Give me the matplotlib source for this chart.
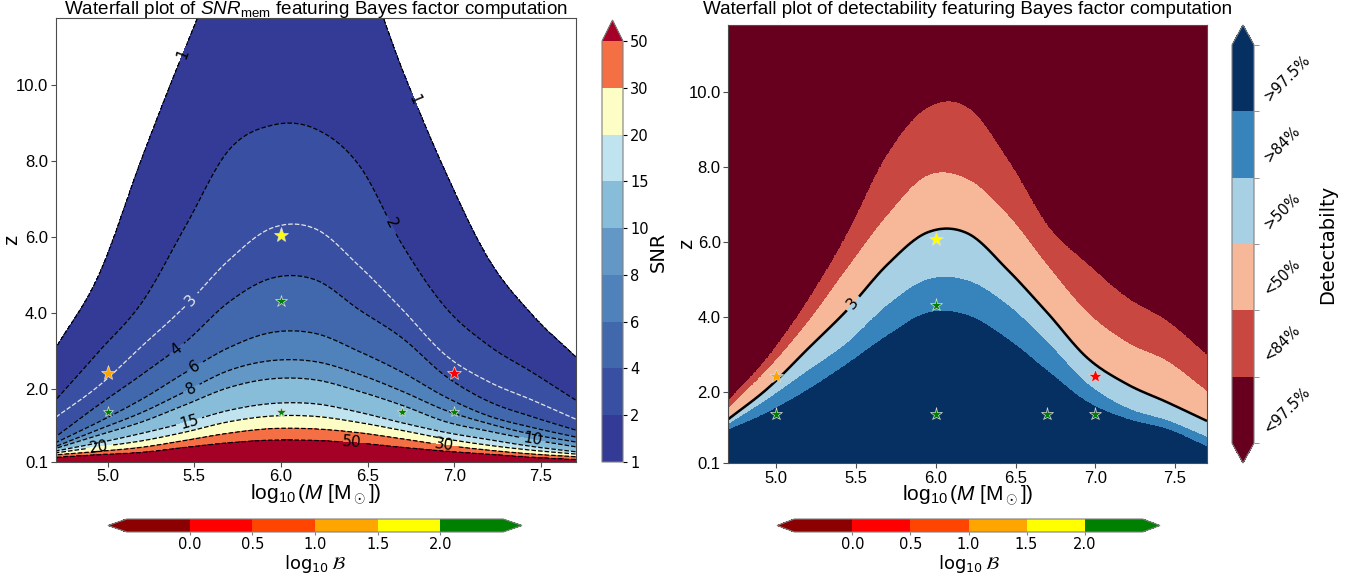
import numpy as np
import matplotlib
matplotlib.use("Agg")
import matplotlib.pyplot as plt
from matplotlib.colors import ListedColormap, BoundaryNorm
from matplotlib.cm import ScalarMappable
from matplotlib.ticker import FixedLocator
from matplotlib import font_manager

# ----------------------------------------------------------------- data
mass_nodes = [4.7, 4.95, 5.2, 5.45, 5.7, 5.95, 6.2, 6.45, 6.7, 6.95, 7.2, 7.45, 7.7]

snr_levels = [1, 2, 4, 6, 8, 10, 15, 20, 30, 50]
# redshift of each SNR contour at the mass nodes
z_snr_1 = [3.07, 5.0, 8.1, 11.0, 13.6, 15.0, 15.0, 13.4, 10.4, 7.7, 5.4, 3.95, 2.85]
z_snr_2 = [1.72, 3.0, 4.3, 6.3, 8.3, 8.95, 8.85, 7.9, 5.8, 4.15, 3.15, 2.45, 1.72]
z_snr_3 = [1.27, 2.1, 3.15, 4.2, 5.4, 6.25, 6.22, 5.25, 4.1, 2.9, 2.2, 1.72, 1.22]
z_snr_4 = [0.75, 1.6, 2.4, 3.25, 4.3, 4.93, 4.88, 4.1, 3.35, 2.35, 1.68, 1.28, 0.93]
z_snr_6 = [0.6, 1.15, 1.75, 2.45, 3.1, 3.5, 3.47, 3.0, 2.45, 1.8, 1.3, 1.0, 0.75]
z_snr_8 = [0.5, 0.95, 1.4, 1.95, 2.5, 2.76, 2.73, 2.4, 1.95, 1.45, 1.1, 0.82, 0.62]
z_snr_10 = [0.45, 0.8, 1.15, 1.6, 2.05, 2.28, 2.25, 1.95, 1.58, 1.15, 0.9, 0.68, 0.49]
z_snr_15 = [0.38, 0.6, 0.85, 1.13, 1.45, 1.63, 1.62, 1.4, 1.12, 0.87, 0.68, 0.5, 0.36]
z_snr_20 = [0.33, 0.49, 0.65, 0.88, 1.15, 1.30, 1.29, 1.13, 0.92, 0.7, 0.53, 0.4, 0.3]
z_snr_30 = [0.28, 0.37, 0.48, 0.66, 0.85, 0.97, 0.96, 0.86, 0.7, 0.53, 0.40, 0.3, 0.23]
z_snr_50 = [0.22, 0.29, 0.35, 0.48, 0.6, 0.67, 0.66, 0.59, 0.48, 0.38, 0.3, 0.22, 0.16]

# detectability band edges (redshift at the mass nodes)
z_det_lt975 = [1.73, 2.9, 4.4, 6.2, 8.3, 9.55, 9.55, 8.15, 6.4, 5.38, 4.48, 3.86, 2.95]
z_det_lt84 = [1.55, 2.6, 3.85, 5.3, 6.7, 7.75, 7.65, 6.7, 5.35, 4.1, 3.3, 2.8, 2.0]
z_det_gt84 = [1.12, 1.8, 2.55, 3.3, 4.3, 4.98, 4.95, 4.3, 3.3, 2.2, 1.55, 1.22, 0.78]
z_det_gt975 = [0.98, 1.45, 2.05, 2.75, 3.5, 4.1, 4.03, 3.4, 2.55, 1.72, 1.27, 1.0, 0.53]
det_labels = ['<97.5%', '<84%', '<50%', '>50%', '>84%', '>97.5%']

# sources (stars) and their log10 Bayes-factor class colour
star_mass = [5.0, 6.0, 7.0, 5.0, 6.0, 6.0, 6.7, 7.0]
star_z = [2.43, 6.07, 2.43, 1.4, 4.32, 1.4, 1.4, 1.4]
star_color = ['orange', 'yellow', 'red', 'green', 'green', 'green', 'green', 'green']

logB_bounds = [-0.5, 0.0, 0.5, 1.0, 1.5, 2.0, 2.5]
logB_colors = ['darkred', 'red', 'orangered', 'orange', 'yellow', 'green']
logB_ticks = [0.0, 0.5, 1.0, 1.5, 2.0]

# ----------------------------------------------------------------- fonts
try:
    font_manager.findfont('Liberation Sans Narrow', fallback_to_default=False)
    NARROW = 'Liberation Sans Narrow'
except Exception:
    NARROW = 'Liberation Sans'
plt.rcParams['font.family'] = [NARROW, 'DejaVu Sans']
plt.rcParams['mathtext.fontset'] = 'custom'
plt.rcParams['mathtext.rm'] = NARROW
plt.rcParams['mathtext.it'] = NARROW + ':italic'
plt.rcParams['mathtext.bf'] = NARROW + ':bold'
DJ = 'DejaVu Sans'

# ----------------------------------------------------------------- grids
M = np.linspace(4.7, 7.7, 361)
Z = np.linspace(0.1, 11.77, 601)


def catmull_rom(xn, yn, x):
    xn = np.asarray(xn, float)
    yn = np.asarray(yn, float)
    h = xn[1] - xn[0]
    ext = np.concatenate([[2 * yn[0] - yn[1]], yn, [2 * yn[-1] - yn[-2]]])
    u = (x - xn[0]) / h
    i = np.clip(np.floor(u).astype(int), 0, len(xn) - 2)
    t = u - i
    p0, p1, p2, p3 = ext[i], ext[i + 1], ext[i + 2], ext[i + 3]
    return 0.5 * (2 * p1 + (-p0 + p2) * t + (2 * p0 - 5 * p1 + 4 * p2 - p3) * t ** 2
                  + (-p0 + 3 * p1 - 3 * p2 + p3) * t ** 3)


def layered_field(curves, values, below, above):
    H = np.array([catmull_rom(mass_nodes, c, M) for c in curves])
    H = np.maximum.accumulate(H, axis=0) + np.arange(len(curves))[:, None] * 1e-6
    F = np.empty((Z.size, M.size))
    for j in range(M.size):
        zk = np.concatenate([[-1.0], H[:, j], [40.0]])
        vk = np.concatenate([[below], values, [above]])
        F[:, j] = np.interp(Z, zk, vk)
    return F


snr_curves = [z_snr_50, z_snr_30, z_snr_20, z_snr_15, z_snr_10, z_snr_8,
              z_snr_6, z_snr_4, z_snr_3, z_snr_2, z_snr_1]
snr_vals = np.log10([50, 30, 20, 15, 10, 8, 6, 4, 3, 2, 1])
snr = 10 ** layered_field(snr_curves, snr_vals, np.log10(200), -1.0)

det = layered_field([z_det_gt975, z_det_gt84, z_snr_3, z_det_lt84, z_det_lt975],
                    [5, 4, 3, 2, 1], 5.95, 0.05)

# ----------------------------------------------------------------- figure
W, H_ = 1370.0, 575.0
fig = plt.figure(figsize=(13.7, 5.75), dpi=100)


def box(x0, y0, x1, y1):
    return [x0 / W, 1 - y1 / H_, (x1 - x0) / W, (y1 - y0) / H_]


ax1 = fig.add_axes(box(55.7, 18, 575.6, 461.7))
ax2 = fig.add_axes(box(728.3, 25.3, 1207, 463))
cax1 = fig.add_axes(box(602, 20, 623, 462))
cax2 = fig.add_axes(box(1232, 25, 1254, 463))
hcax1 = fig.add_axes(box(108, 519, 522, 532))
hcax2 = fig.add_axes(box(777, 519, 1160, 532))

spine_col = '0.3'

# ---- left panel
cf1 = ax1.contourf(M, Z, snr, levels=snr_levels, cmap='RdYlBu_r', extend='max')
label_pos = {1: [(5.46, 10.8), (6.76, 9.6)], 2: [(6.60, 6.28)], 4: [(5.40, 3.05)],
             6: [(5.51, 2.55)], 8: [(5.49, 1.96)], 10: [(7.45, 0.68)],
             15: [(5.47, 1.15)], 20: [(4.95, 0.49)], 30: [(6.94, 0.51)],
             50: [(6.41, 0.58)]}
for lev in snr_levels:
    cs = ax1.contour(M, Z, snr, levels=[lev], colors='k', linestyles='--',
                     linewidths=0.9)
    ax1.clabel(cs, manual=label_pos[lev], inline=True, fmt='%g', fontsize=11)
    for t in cs.labelTexts:
        t.set_fontfamily(DJ)
cs3 = ax1.contour(M, Z, snr, levels=[3], colors='#e6e6e6', linestyles='--',
                  linewidths=0.9)
ax1.clabel(cs3, manual=[(5.48, 4.37)], inline=True, fmt='%g', fontsize=11)
for t in cs3.labelTexts:
    t.set_fontfamily(DJ)
    t.set_color('#e6e6e6')

big = {'orange': 11, 'yellow': 11, 'red': 10, 'green': 8}
for m, zz, c in zip(star_mass, star_z, star_color):
    ax1.plot(m, zz, ls='none', marker='*', color=c,
             ms=big[c] + (1 if (zz > 4 and c == 'green') else 0),
             mec='#dddddd', mew=0.5, zorder=5)

# ---- right panel
det_colors = [plt.cm.RdBu(v) for v in [0.0, 1 / 6, 2 / 6, 4 / 6, 5 / 6, 1.0]]
det_cmap = ListedColormap(det_colors)
det_cmap.set_under(det_colors[0])
det_cmap.set_over(det_colors[-1])
det_norm = BoundaryNorm(np.arange(7), 6)
ax2.contourf(M, Z, det, levels=np.arange(7), cmap=det_cmap, norm=det_norm)
cs_r = ax2.contour(M, Z, snr, levels=[3], colors='k', linewidths=1.8)
ax2.clabel(cs_r, manual=[(5.48, 4.36)], inline=True, fmt='%g', fontsize=11)
for t in cs_r.labelTexts:
    t.set_fontfamily(DJ)
small = {'orange': 10, 'yellow': 10.5, 'red': 10, 'green': 9.5}
for m, zz, c in zip(star_mass, star_z, star_color):
    ax2.plot(m, zz, ls='none', marker='*', color=c, ms=small[c],
             mec='#dddddd', mew=0.5, zorder=5)

# ---- axes cosmetics
xt = [5.0, 5.5, 6.0, 6.5, 7.0, 7.5]
yt = [0.1, 2.0, 4.0, 6.0, 8.0, 10.0]
for ax, ylab_x, xlab_y in ((ax1, -0.066, -0.048), (ax2, -0.068, -0.047)):
    ax.set_xlim(4.7, 7.7)
    ax.set_ylim(0.1, 11.77)
    ax.set_xticks(xt)
    ax.set_xticklabels(['%.1f' % v for v in xt])
    ax.set_yticks(yt)
    ax.set_yticklabels(['%.1f' % v for v in yt])
    ax.tick_params(labelsize=12, color=spine_col, length=3.5, pad=2)
    ax.set_xlabel(r'$\log_{10}(M\ [\mathrm{M}_\odot])$', fontsize=15)
    ax.xaxis.set_label_coords(0.5, xlab_y)
    ax.set_ylabel('z', fontsize=15)
    ax.yaxis.set_label_coords(ylab_x, 0.5)
    for s in ax.spines.values():
        s.set_edgecolor(spine_col)

fig.text(315.6 / W, 1 - 10 / H_,
         r'Waterfall plot of $SNR_{\mathrm{mem}}$ featuring Bayes factor computation',
         ha='center', va='center', fontsize=13.6)
fig.text(967.6 / W, 1 - 10 / H_,
         'Waterfall plot of detectability featuring Bayes factor computation',
         ha='center', va='center', fontsize=13.6)

# ---- SNR colorbar
cb1 = fig.colorbar(cf1, cax=cax1)
cb1.set_ticks(snr_levels)
cb1.set_ticklabels([str(v) for v in snr_levels])
cb1.ax.tick_params(labelsize=10.5, pad=2, length=3)
for t in cb1.ax.get_yticklabels():
    t.set_fontfamily(DJ)
cb1.set_label('SNR', fontsize=14, family=DJ, labelpad=0)
cb1.outline.set_edgecolor('0.5')

# ---- detectability colorbar
sm = ScalarMappable(norm=det_norm, cmap=det_cmap)
cb2 = fig.colorbar(sm, cax=cax2, extend='both')
centers = np.arange(6) + 0.5
cb2.set_ticks(centers)
cb2.set_ticklabels(det_labels)
cb2.ax.tick_params(length=0, labelsize=10.5, pad=5)
for t in cb2.ax.get_yticklabels():
    t.set_fontfamily(DJ)
    t.set_rotation(45)
    t.set_verticalalignment('center')
cb2.ax.yaxis.set_minor_locator(FixedLocator(np.arange(7)))
cb2.ax.tick_params(which='minor', length=3.5, color='0.5')
cb2.set_label('Detectabilty', fontsize=14, family=DJ, labelpad=4)
cb2.outline.set_edgecolor('0.5')

# ---- log10 B colorbars
for hc in (hcax1, hcax2):
    bc = ListedColormap(logB_colors)
    bc.set_under(logB_colors[0])
    bc.set_over(logB_colors[-1])
    bn = BoundaryNorm(logB_bounds, len(logB_colors))
    hb = fig.colorbar(ScalarMappable(norm=bn, cmap=bc), cax=hc,
                      orientation='horizontal', extend='both')
    hb.set_ticks(logB_ticks)
    hb.set_ticklabels(['%.1f' % v for v in logB_ticks])
    hc.minorticks_off()
    hc.tick_params(labelsize=10.5, length=2, pad=1.5, color='0.5')
    for t in hc.get_xticklabels():
        t.set_fontfamily(DJ)
    hb.set_label(r'$\log_{10}\mathcal{B}$', fontsize=13, family=DJ,
                 math_fontfamily='dejavusans', labelpad=1)
    hb.outline.set_edgecolor('0.5')

fig.savefig('out.png', dpi=100)
